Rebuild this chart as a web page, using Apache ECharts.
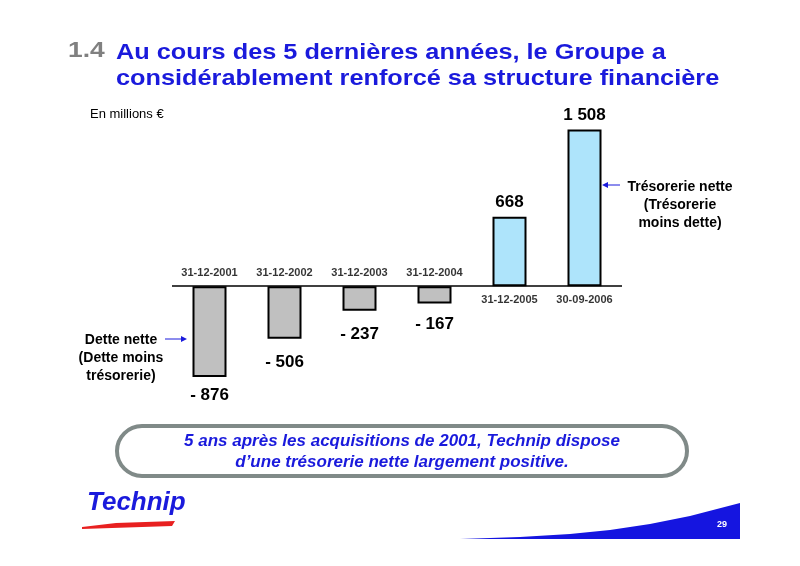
<!DOCTYPE html>
<html><head><meta charset="utf-8">
<script src="https://cdn.jsdelivr.net/npm/echarts@6/dist/echarts.min.js"></script>
<style>html,body{margin:0;padding:0;background:#fff}#c{width:800px;height:566px}</style>
</head><body><div id="c"></div>
<script>
var categories = ['31-12-2001', '31-12-2002', '31-12-2003', '31-12-2004', '31-12-2005', '30-09-2006'];
var values = [-876, -506, -237, -167, 668, 1508];
var valueLabels = ['- 876', '- 506', '- 237', '- 167', '668', '1 508'];

var chart = echarts.init(document.getElementById('c'));
var F = 'Arial, "Liberation Sans", sans-serif';

var option = {
  backgroundColor: '#ffffff',
  animation: false,
  grid: { left: 172, width: 450, top: 120, height: 270 },
  xAxis: {
    type: 'category', data: categories,
    axisLine: { show: false }, axisTick: { show: false }, axisLabel: { show: false }
  },
  yAxis: { type: 'value', min: -1000, max: 1600, show: false, splitLine: { show: false } },
  series: [{
    type: 'bar',
    barWidth: 34,
    data: values.map(function (v, i) {
      var neg = v < 0;
      return {
        value: v,
        itemStyle: { color: neg ? '#c0c0c0' : '#aee4fb', borderColor: '#000', borderWidth: 2 },
        label: {
          show: true, position: neg ? 'bottom' : 'top',
          distance: [10, 15, 15, 12, 6, 6][i],
          formatter: valueLabels[i],
          fontFamily: F, fontWeight: 'bold', fontSize: 17, color: '#000'
        }
      };
    }),
    markLine: {
      silent: true, symbol: 'none', label: { show: false },
      lineStyle: { color: '#000', width: 1.5, type: 'solid' },
      data: [{ yAxis: 0 }]
    }
  }, {
    type: 'scatter', symbolSize: 0,
    data: values.map(function (v, i) {
      return {
        value: [categories[i], 0],
        label: {
          show: true, position: v < 0 ? 'top' : 'bottom', distance: 8,
          formatter: categories[i], fontFamily: F, fontWeight: 'bold', fontSize: 11, color: '#000'
        }
      };
    })
  }],
  graphic: [
    { type: 'text', x: 68, y: 40, scaleX: 1.2, style: { text: '1.4', font: 'bold 22px ' + F, fill: '#808080' } },
    { type: 'text', x: 116, y: 40, scaleX: 1.15, style: { text: 'Au cours des 5 dernières années, le Groupe a\nconsidérablement renforcé sa structure financière', font: 'bold 22px ' + F, fill: '#1a1adc', lineHeight: 26 } },
    { type: 'text', x: 90, y: 108, style: { text: 'En millions €', font: '13px ' + F, fill: '#000' } },
    { type: 'text', x: 121, y: 331, style: { text: 'Dette nette\n(Dette moins\ntrésorerie)', font: 'bold 14px ' + F, fill: '#000', align: 'center', lineHeight: 18 } },
    { type: 'line', shape: { x1: 165, y1: 339, x2: 184, y2: 339 }, style: { stroke: '#1a1adc', lineWidth: 1 } },
    { type: 'polygon', shape: { points: [[187, 339], [181, 336], [181, 342]] }, style: { fill: '#1a1adc' } },
    { type: 'text', x: 680, y: 178, style: { text: 'Trésorerie nette\n(Trésorerie\nmoins dette)', font: 'bold 14px ' + F, fill: '#000', align: 'center', lineHeight: 18 } },
    { type: 'line', shape: { x1: 606, y1: 185, x2: 620, y2: 185 }, style: { stroke: '#1a1adc', lineWidth: 1 } },
    { type: 'polygon', shape: { points: [[602, 185], [608, 182], [608, 188]] }, style: { fill: '#1a1adc' } },
    { type: 'rect', shape: { x: 117, y: 426, width: 570, height: 50, r: 25 }, style: { fill: '#fff', stroke: '#808a88', lineWidth: 4 } },
    { type: 'text', x: 402, y: 431, style: { text: '5 ans après les acquisitions de 2001, Technip dispose\nd’une trésorerie nette largement positive.', font: 'italic bold 17px ' + F, fill: '#1a1adc', align: 'center', lineHeight: 21 } },
    { type: 'text', x: 87, y: 490, style: { text: 'Technip', font: 'italic bold 26px ' + F, fill: '#1a1adc' } },
    { type: 'polygon', shape: { points: [[82, 527], [116, 523], [175, 521], [172, 526], [82, 529]] }, style: { fill: '#e82020' } },
    { type: 'polygon', shape: { points: [[460, 539], [520, 537], [570, 534], [610, 530], [650, 524], [690, 516], [740, 503], [740, 539]] }, style: { fill: '#1515e0' } },
    { type: 'text', x: 717, y: 520, style: { text: '29', font: 'bold 9px ' + F, fill: '#fff' } }
  ]
};
chart.setOption(option);
</script></body></html>
